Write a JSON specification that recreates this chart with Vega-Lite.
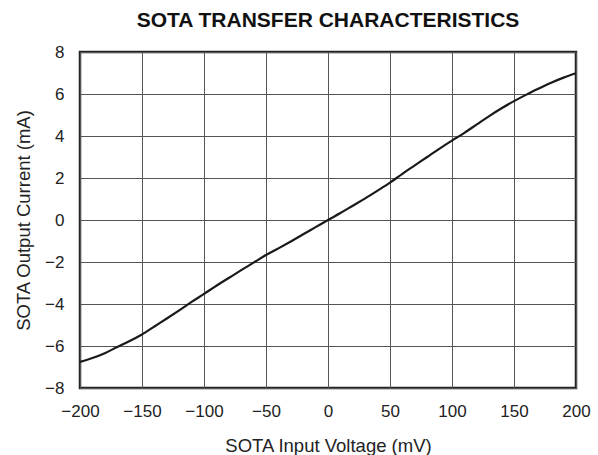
{
  "$schema": "https://vega.github.io/schema/vega-lite/v6.json",
  "width": 496,
  "height": 336,
  "autosize": {"type": "none"},
  "padding": {"left": 80, "top": 52, "right": 22, "bottom": 67},
  "background": "white",
  "title": {
    "text": "SOTA TRANSFER CHARACTERISTICS",
    "fontSize": 21,
    "fontWeight": "bold",
    "font": "Liberation Sans",
    "color": "#111",
    "anchor": "middle",
    "offset": 12
  },
  "config": {
    "view": {"stroke": "#222", "strokeWidth": 2.5},
    "axis": {
      "labelFont": "Liberation Sans",
      "titleFont": "Liberation Sans",
      "labelColor": "#222",
      "titleColor": "#222",
      "labelFontSize": 17,
      "titleFontSize": 18.5,
      "titleFontWeight": "normal",
      "gridColor": "#555",
      "gridOpacity": 1,
      "gridWidth": 1,
      "domain": false,
      "ticks": false
    }
  },
  "data": {
    "values": [
      {"v": -200, "i": -6.76},
      {"v": -190, "i": -6.57},
      {"v": -180, "i": -6.34},
      {"v": -170, "i": -6.05},
      {"v": -160, "i": -5.76},
      {"v": -150, "i": -5.45},
      {"v": -140, "i": -5.07},
      {"v": -130, "i": -4.69},
      {"v": -120, "i": -4.3},
      {"v": -110, "i": -3.9},
      {"v": -100, "i": -3.52},
      {"v": -90, "i": -3.13},
      {"v": -80, "i": -2.76},
      {"v": -70, "i": -2.39},
      {"v": -60, "i": -2.03},
      {"v": -50, "i": -1.67},
      {"v": -40, "i": -1.35},
      {"v": -30, "i": -1.02},
      {"v": -20, "i": -0.68},
      {"v": -10, "i": -0.34},
      {"v": 0, "i": 0},
      {"v": 10, "i": 0.33},
      {"v": 20, "i": 0.68},
      {"v": 30, "i": 1.03},
      {"v": 40, "i": 1.4},
      {"v": 50, "i": 1.78},
      {"v": 60, "i": 2.2},
      {"v": 70, "i": 2.6},
      {"v": 80, "i": 3.0},
      {"v": 90, "i": 3.4},
      {"v": 100, "i": 3.78},
      {"v": 110, "i": 4.15},
      {"v": 120, "i": 4.55},
      {"v": 130, "i": 4.95},
      {"v": 140, "i": 5.32},
      {"v": 150, "i": 5.66},
      {"v": 160, "i": 5.97},
      {"v": 170, "i": 6.26},
      {"v": 180, "i": 6.54},
      {"v": 190, "i": 6.78},
      {"v": 200, "i": 6.99}
    ]
  },
  "mark": {"type": "line", "color": "#1a1a1a", "strokeWidth": 2.2, "interpolate": "monotone", "clip": true},
  "encoding": {
    "x": {
      "field": "v",
      "type": "quantitative",
      "scale": {"domain": [-200, 200], "nice": false, "zero": false},
      "axis": {
        "title": "SOTA Input Voltage (mV)",
        "values": [-200, -150, -100, -50, 0, 50, 100, 150, 200],
        "labelExpr": "replace(datum.label, '-', '\u2212')",
        "labelPadding": 15,
        "titlePadding": 17,
        "labelFlush": false
      }
    },
    "y": {
      "field": "i",
      "type": "quantitative",
      "scale": {"domain": [-8, 8], "nice": false, "zero": false},
      "axis": {
        "title": "SOTA Output Current (mA)",
        "values": [-8, -6, -4, -2, 0, 2, 4, 6, 8],
        "labelExpr": "replace(datum.label, '-', '\u2212')",
        "labelPadding": 16,
        "titlePadding": 11,
        "labelFlush": false
      }
    }
  }
}
